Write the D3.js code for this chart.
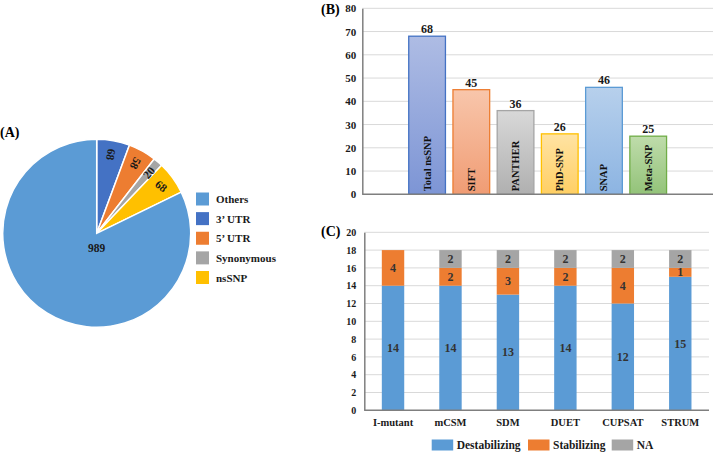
<!DOCTYPE html>
<html><head><meta charset="utf-8">
<script src="https://cdn.jsdelivr.net/npm/d3@7"></script>
<style>
html,body{margin:0;padding:0;background:#fff;}
svg{display:block;font-family:"Liberation Serif","Times New Roman",serif;font-weight:bold;}
</style></head>
<body>
<svg id="c" width="719" height="453"></svg>
<script>
// ---- Data ----
// (A) pie
const pieCats = ["3\u2019 UTR", "5\u2019 UTR", "Synonymous", "nsSNP", "Others"];
const pieVals = [68, 58, 20, 68, 989];
const legendCats = ["Others", "3\u2019 UTR", "5\u2019 UTR", "Synonymous", "nsSNP"];
// (B) bar
const barCats = ["Total nsSNP", "SIFT", "PANTHER", "PhD-SNP", "SNAP", "Meta-SNP"];
const barVals = [68, 45, 36, 26, 46, 25];
const barTicks = [0, 10, 20, 30, 40, 50, 60, 70, 80];
// (C) stacked bar
const stackCats = ["I-mutant", "mCSM", "SDM", "DUET", "CUPSAT", "STRUM"];
const destabilizing = [14, 14, 13, 14, 12, 15];
const stabilizing = [4, 2, 3, 2, 4, 1];
const naVals = [0, 2, 2, 2, 2, 2];
const stackSeries = ["Destabilizing", "Stabilizing", "NA"];
const stackTicks = [0, 2, 4, 6, 8, 10, 12, 14, 16, 18, 20];

// ---- Styles ----
const pieColors = {"Others":"#5b9bd5","3\u2019 UTR":"#4472c4","5\u2019 UTR":"#ed7d31","Synonymous":"#a5a5a5","nsSNP":"#ffc000"};
const pieLabelRot = [100, 117, -50, 38, 0];
const barStroke = ["#4472c4","#ed7d31","#a5a5a5","#ffc000","#5b9bd5","#70ad47"];
const barTop = ["#aebce4","#f8c6ab","#d8d8d8","#ffe3a3","#b7d0ec","#bfdcab"];
const barBot = ["#7d95d5","#f09c74","#b0b0b0","#ffcf64","#8cb4e2","#93c379"];
const stackColors = ["#5b9bd5","#ed7d31","#a5a5a5"];

const svg = d3.select("#c");
const axisCol = "#7f7f7f", gridCol = "#d9d9d9";

// ===== (A) Pie =====
svg.append("text").attr("x", 0).attr("y", 137).attr("font-size", 14).text("(A)");
const cx = 96.7, cy = 233.3, R = 94;
const pie = d3.pie().sort(null).value(d => d.v);
const arcs = pie(pieCats.map((c, i) => ({c, v: pieVals[i], i})));
const arc = d3.arc().innerRadius(0).outerRadius(R);
const gP = svg.append("g").attr("transform", `translate(${cx},${cy})`);
gP.selectAll("path").data(arcs).join("path")
  .attr("d", arc).attr("fill", d => pieColors[d.data.c])
  .attr("stroke", "#fff").attr("stroke-width", 1.5);
const labArc = d3.arc().innerRadius(80).outerRadius(80);
gP.selectAll("text.pl").data(arcs).join("text")
  .attr("class", "pl")
  .attr("transform", d => {
    let p;
    if (d.data.c === "Others") p = [0, 14.5];
    else p = labArc.centroid(d);
    return `translate(${p[0]},${p[1]}) rotate(${pieLabelRot[d.index]})`;
  })
  .attr("text-anchor", "middle").attr("dominant-baseline", "central")
  .attr("font-size", 11.5).attr("fill", "#1a1a1a")
  .text(d => d.data.v);

// legend A
const legA = svg.append("g");
const legY = d3.scalePoint().domain(legendCats).range([199, 277.5]);
legendCats.forEach(c => {
  legA.append("rect").attr("x", 196).attr("y", legY(c) - 6.5).attr("width", 13).attr("height", 13).attr("fill", pieColors[c]);
  legA.append("text").attr("x", 216).attr("y", legY(c)).attr("dominant-baseline", "central")
    .attr("font-size", 11).attr("fill", "#1a1a1a").text(c);
});

// ===== (B) Bar =====
svg.append("text").attr("x", 321).attr("y", 14).attr("font-size", 14).text("(B)");
const xB = d3.scaleBand().domain(barCats).range([362.3, 713]).paddingInner(0.17).paddingOuter(1.05);
const yB = d3.scaleLinear().domain([0, 80]).range([194.3, 8.3]);
const defs = svg.append("defs");
barCats.forEach((c, i) => {
  const g = defs.append("linearGradient").attr("id", "gb" + i).attr("x1", 0).attr("y1", 0).attr("x2", 0).attr("y2", 1);
  g.append("stop").attr("offset", "0%").attr("stop-color", barTop[i]);
  g.append("stop").attr("offset", "100%").attr("stop-color", barBot[i]);
});
const gB = svg.append("g");
gB.selectAll("line.grid").data(barTicks.filter(t => t > 0)).join("line")
  .attr("x1", 362.3).attr("x2", 713).attr("y1", d => yB(d)).attr("y2", d => yB(d))
  .attr("stroke", gridCol).attr("stroke-width", 1);
gB.selectAll("rect").data(barCats).join("rect")
  .attr("x", d => xB(d)).attr("width", xB.bandwidth())
  .attr("y", (d, i) => yB(barVals[i])).attr("height", (d, i) => yB(0) - yB(barVals[i]))
  .attr("fill", (d, i) => `url(#gb${i})`).attr("stroke", (d, i) => barStroke[i]).attr("stroke-width", 1.3);
gB.selectAll("text.val").data(barCats).join("text").attr("class", "val")
  .attr("x", d => xB(d) + xB.bandwidth() / 2).attr("y", (d, i) => yB(barVals[i]) - 3)
  .attr("text-anchor", "middle").attr("font-size", 12).attr("fill", "#1a1a1a")
  .text((d, i) => barVals[i]);
gB.selectAll("text.cat").data(barCats).join("text").attr("class", "cat")
  .attr("transform", d => `translate(${xB(d) + xB.bandwidth() / 2 + 3.5},${yB(0) - 3}) rotate(-90)`)
  .attr("font-size", 10.5).attr("fill", "#111").text(d => d);
const axB = d3.axisLeft(yB).tickValues(barTicks).tickSize(0).tickPadding(6);
const gAxB = svg.append("g").attr("transform", "translate(362.3,0)").call(axB);
gAxB.select(".domain").attr("stroke", axisCol).attr("stroke-width", 1.5);
gAxB.selectAll("text").attr("font-family", "Liberation Serif").attr("font-weight", "bold").attr("font-size", 11).attr("fill", "#1a1a1a");
svg.append("line").attr("x1", 362.3).attr("x2", 713).attr("y1", yB(0)).attr("y2", yB(0)).attr("stroke", axisCol).attr("stroke-width", 1.5);

// ===== (C) Stacked =====
svg.append("text").attr("x", 321).attr("y", 236).attr("font-size", 14).text("(C)");
const xC = d3.scaleBand().domain(stackCats).range([364.3, 709]).paddingInner(0.61).paddingOuter(0.305);
const yC = d3.scaleLinear().domain([0, 20]).range([410.3, 232.3]);
const rows = stackCats.map((c, i) => ({cat: c, Destabilizing: destabilizing[i], Stabilizing: stabilizing[i], NA: naVals[i]}));
const stacked = d3.stack().keys(stackSeries)(rows);
const gC = svg.append("g");
gC.selectAll("line.grid").data(stackTicks.filter(t => t > 0)).join("line")
  .attr("x1", 364.3).attr("x2", 709).attr("y1", d => yC(d)).attr("y2", d => yC(d))
  .attr("stroke", gridCol).attr("stroke-width", 1);
stacked.forEach((s, si) => {
  const g = gC.append("g");
  g.selectAll("rect").data(s).join("rect")
    .attr("x", d => xC(d.data.cat)).attr("width", xC.bandwidth())
    .attr("y", d => yC(d[1])).attr("height", d => yC(d[0]) - yC(d[1]))
    .attr("fill", stackColors[si]);
  g.selectAll("text").data(s.filter(d => d[1] - d[0] > 0)).join("text")
    .attr("x", d => xC(d.data.cat) + xC.bandwidth() / 2)
    .attr("y", d => yC((d[0] + d[1]) / 2))
    .attr("text-anchor", "middle").attr("dominant-baseline", "central")
    .attr("font-size", 12).attr("fill", "#333")
    .text(d => d[1] - d[0]);
});
const axC = d3.axisLeft(yC).tickValues(stackTicks).tickSize(0).tickPadding(8);
const gAxC = svg.append("g").attr("transform", "translate(364.3,0)").call(axC);
gAxC.select(".domain").attr("stroke", axisCol).attr("stroke-width", 1.5);
gAxC.selectAll("text").attr("font-family", "Liberation Serif").attr("font-weight", "bold").attr("font-size", 10).attr("fill", "#1a1a1a");
const axCx = d3.axisBottom(xC).tickSize(0).tickPadding(8);
const gAxCx = svg.append("g").attr("transform", `translate(0,${yC(0)})`).call(axCx);
gAxCx.select(".domain").remove();
gAxCx.selectAll("text").attr("font-family", "Liberation Serif").attr("font-weight", "bold").attr("font-size", 10.5).attr("fill", "#1a1a1a");
svg.append("line").attr("x1", 364.3).attr("x2", 709).attr("y1", yC(0)).attr("y2", yC(0)).attr("stroke", axisCol).attr("stroke-width", 1.5);

// legend C
const legCx = [431.7, 528, 611.7];
stackSeries.forEach((s, i) => {
  svg.append("rect").attr("x", legCx[i]).attr("y", 439.5).attr("width", 21.5).attr("height", 11).attr("fill", stackColors[i]);
  svg.append("text").attr("x", legCx[i] + 25).attr("y", 445).attr("dominant-baseline", "central")
    .attr("font-size", 11.5).attr("fill", "#1a1a1a").text(s);
});
</script>
</body></html>
